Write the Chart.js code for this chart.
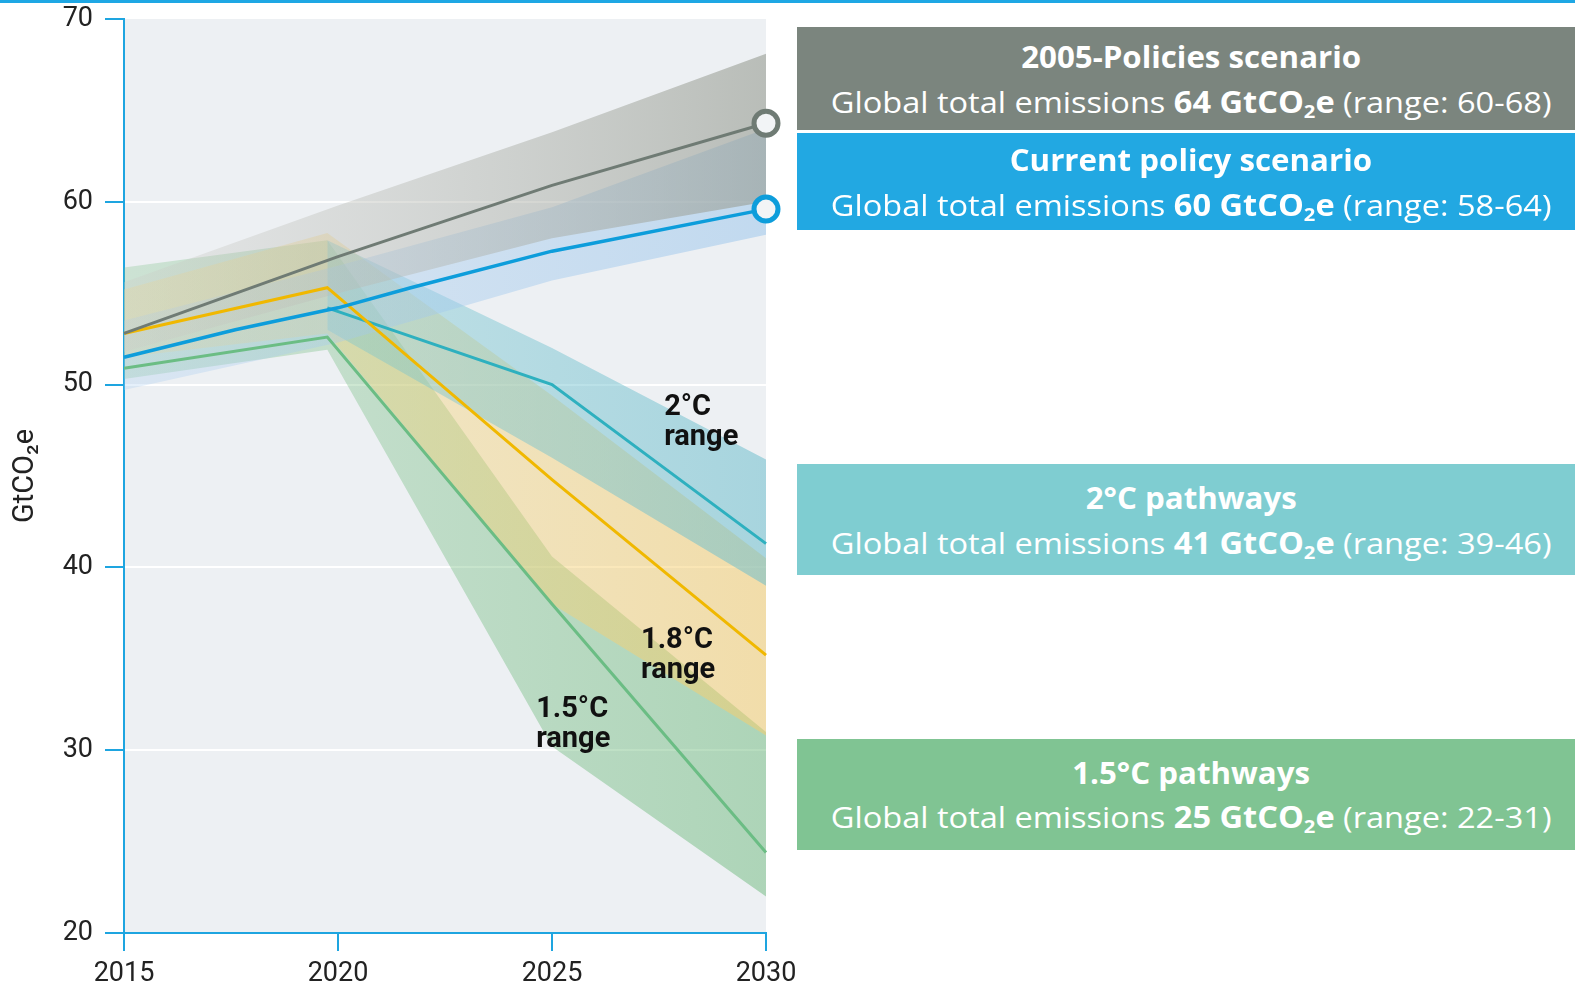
<!DOCTYPE html>
<html>
<head>
<meta charset="utf-8">
<script src="https://cdn.jsdelivr.net/npm/chart.js@4/dist/chart.umd.min.js"></script>
<style>
  html, body { margin: 0; padding: 0; background: #fff; overflow: hidden; }
  body { width: 1575px; height: 993px; position: relative; }
  #topline { position: absolute; left: 0; top: 0; width: 1575px; height: 3px; background: #1ea7e4; }
  #wrap { position: absolute; left: 0; top: 0; width: 800px; height: 993px; }
  .box { position: absolute; left: 797px; width: 788px; color: #fff; font-family: "Open Sans", sans-serif; }
  .line { position: absolute; left: 0; width: 100%; height: 40px; line-height: 40px; text-align: center; white-space: nowrap; font-size: 30px; }
  .line span { display: inline-block; transform-origin: center; }
  .t { font-weight: 700; }
  .s b { font-weight: 700; }
  sub { font-size: 0.62em; line-height: 0; vertical-align: -0.25em; }
</style>
</head>
<body>
<div id="topline"></div>
<div id="wrap"><canvas id="emissionsChart" width="800" height="993"></canvas></div>

<div class="box" style="top:27px;height:103px;background:#7b857e">
  <div class="line t" style="top:10px"><span>2005-Policies scenario</span></div>
  <div class="line s" style="top:55px"><span>Global total emissions <b>64 GtCO<sub>2</sub>e</b> (range: 60-68)</span></div>
</div>
<div class="box" style="top:133px;height:97px;background:#22a8e2">
  <div class="line t" style="top:7px"><span>Current policy scenario</span></div>
  <div class="line s" style="top:52px"><span>Global total emissions <b>60 GtCO<sub>2</sub>e</b> (range: 58-64)</span></div>
</div>
<div class="box" style="top:464px;height:111px;background:#7fcdd1">
  <div class="line t" style="top:14px"><span>2°C pathways</span></div>
  <div class="line s" style="top:59px"><span>Global total emissions <b>41 GtCO<sub>2</sub>e</b> (range: 39-46)</span></div>
</div>
<div class="box" style="top:739px;height:111px;background:#80c493">
  <div class="line t" style="top:14px"><span>1.5°C pathways</span></div>
  <div class="line s" style="top:58px"><span>Global total emissions <b>25 GtCO<sub>2</sub>e</b> (range: 22-31)</span></div>
</div>

<script>
// years on the x axis
var bandYears = [2015, 2020, 2025, 2030];
var pathYears = [2015, 2019.75, 2025, 2030];
var twoYears = [2019.75, 2025, 2030];
var currentYears = [2015, 2017.6, 2020, 2021.7, 2025, 2025.9, 2030];
var xTicks = [2015, 2020, 2025, 2030];
var yTicks = [20, 30, 40, 50, 60, 70];

// median lines (GtCO2e)
var policy2005Line = [52.8, 57.0, 60.9, 64.3];
var currentLine = [51.5, 53.0, 54.2, 55.3, 57.3, 57.7, 59.6];
var oneEightLine = [52.8, 55.3, 44.8, 35.2];
var twoLine = [54.2, 50.0, 41.3];
var oneFiveLine = [50.9, 52.6, 38.0, 24.4];

// ranges
var policy2005Upper = [55.6, 59.8, 63.8, 68.1];
var policy2005Lower = [51.8, 55.0, 58.0, 60.0];
var currentUpper = [53.5, 56.5, 59.7, 64.0];
var currentLower = [49.7, 52.3, 55.7, 58.2];
var twoUpper = [57.9, 52.0, 45.9];
var twoLower = [53.0, 46.0, 39.0];
var oneEightUpper = [55.2, 58.3, 49.4, 40.5];
var oneEightLower = [51.5, 52.8, 38.0, 30.8];
var oneFiveUpper = [56.4, 57.9, 40.6, 31.0];
var oneFiveLower = [50.3, 51.9, 30.2, 22.0];

// in-plot labels
var rangeLabels = [
    { text: ['2°C', 'range'], x: 2027.62, y: 48.73 },
    { text: ['1.8°C', 'range'], x: 2027.08, y: 35.98 },
    { text: ['1.5°C', 'range'], x: 2024.63, y: 32.23 }
];

var axisBlue = '#1ea5e0';

function pts(xs, ys) {
    return xs.map(function(x, i) { return { x: x, y: ys[i] }; });
}

function grad(c0, c1) {
    return function(context) {
        var chart = context.chart, area = chart.chartArea;
        if (!area) return c1;
        var g = chart.ctx.createLinearGradient(area.left, 0, area.right, 0);
        g.addColorStop(0, c0);
        g.addColorStop(1, c1);
        return g;
    };
}

function line(label, xs, ys, color, width, marker) {
    return {
        label: label,
        data: pts(xs, ys),
        borderColor: color,
        borderWidth: width,
        fill: false,
        tension: 0,
        clip: false,
        pointRadius: function(ctx) { return marker && ctx.dataIndex === ys.length - 1 ? 12 : 0; },
        pointBorderWidth: 5,
        pointBorderColor: color,
        pointBackgroundColor: '#f2f4f6',
        pointHoverRadius: 0
    };
}

function band(label, xs, upper, lower, c0, c1) {
    return [{
        label: label + ' upper',
        data: pts(xs, upper),
        borderWidth: 0,
        pointRadius: 0,
        backgroundColor: grad(c0, c1),
        fill: '+1',
        tension: 0
    }, {
        label: label + ' lower',
        data: pts(xs, lower),
        borderWidth: 0,
        pointRadius: 0,
        fill: false,
        tension: 0
    }];
}

var datasets = [
    line('2005-Policies', bandYears, policy2005Line, '#6f7b74', 3, true),
    line('Current policy', currentYears, currentLine, '#0d9ddb', 3.5, true),
    line('1.8°C', pathYears, oneEightLine, '#f0b800', 3, false),
    line('2°C', twoYears, twoLine, '#2eb0bf', 3, false),
    line('1.5°C', pathYears, oneFiveLine, '#6bbd84', 3, false)
].concat(
    band('2005-Policies', bandYears, policy2005Upper, policy2005Lower, 'rgba(205,205,200,0.3)', 'rgba(150,155,145,0.6)'),
    band('Current policy', bandYears, currentUpper, currentLower, 'rgba(170,205,240,0.3)', 'rgba(150,195,235,0.5)'),
    band('2°C', twoYears, twoUpper, twoLower, 'rgba(120,200,210,0.3)', 'rgba(110,190,205,0.55)'),
    band('1.8°C', pathYears, oneEightUpper, oneEightLower, 'rgba(245,215,130,0.3)', 'rgba(245,205,110,0.55)'),
    band('1.5°C', pathYears, oneFiveUpper, oneFiveLower, 'rgba(120,190,130,0.28)', 'rgba(110,185,125,0.5)')
);

// plot background and range labels
var plotDecor = {
    id: 'plotDecor',
    beforeDraw: function(chart) {
        var a = chart.chartArea, ctx = chart.ctx;
        ctx.save();
        ctx.fillStyle = '#edf0f3';
        ctx.fillRect(a.left, a.top, a.right - a.left, a.bottom - a.top);
        ctx.restore();
    },
    afterDatasetsDraw: function(chart) {
        var ctx = chart.ctx, xs = chart.scales.x, ys = chart.scales.y;
        ctx.save();
        ctx.fillStyle = '#111';
        ctx.font = 'bold 29px Roboto';
        ctx.textAlign = 'left';
        ctx.textBaseline = 'middle';
        rangeLabels.forEach(function(l) {
            var px = xs.getPixelForValue(l.x), py = ys.getPixelForValue(l.y);
            l.text.forEach(function(t, i) { ctx.fillText(t, px, py + i * 30); });
        });
        ctx.restore();
    }
};

var ctx = document.getElementById('emissionsChart').getContext('2d');
new Chart(ctx, {
    type: 'line',
    data: { datasets: datasets },
    plugins: [plotDecor],
    options: {
        responsive: false,
        animation: false,
        devicePixelRatio: 1,
        // plot area: left 124, top 19, right 766, bottom 933
        layout: { padding: { top: 19, right: 34, left: 0, bottom: 0 } },
        plugins: { legend: { display: false }, tooltip: { enabled: false } },
        scales: {
            x: {
                type: 'linear',
                min: 2015,
                max: 2030,
                afterBuildTicks: function(scale) { scale.ticks = xTicks.map(function(v) { return { value: v }; }); },
                afterFit: function(scale) {
                    scale.height = 60;
                    scale.paddingLeft = 0;
                    scale.paddingRight = 0;
                },
                ticks: {
                    color: '#222',
                    font: { family: 'Roboto', size: 27 },
                    padding: 7,
                    maxRotation: 0,
                    callback: function(v) { return String(v); }
                },
                grid: { drawOnChartArea: false, tickColor: axisBlue, tickLength: 18, lineWidth: 2 },
                border: { color: axisBlue, width: 2 }
            },
            y: {
                min: 20,
                max: 70,
                afterBuildTicks: function(scale) { scale.ticks = yTicks.map(function(v) { return { value: v }; }); },
                afterFit: function(scale) {
                    scale.width = 124;
                    scale.paddingTop = 0;
                    scale.paddingBottom = 0;
                },
                ticks: {
                    color: '#222',
                    font: { family: 'Roboto', size: 27 },
                    padding: 12,
                    callback: function(v) { return String(v); }
                },
                grid: {
                    color: function(c) { return (c.tick && (c.tick.value === 20 || c.tick.value === 70)) ? 'rgba(0,0,0,0)' : '#ffffff'; },
                    lineWidth: 2,
                    tickColor: axisBlue,
                    tickLength: 19
                },
                border: { color: axisBlue, width: 2 },
                title: {
                    display: true,
                    text: 'GtCO₂e',
                    color: '#222',
                    font: { family: 'Roboto', size: 29 },
                    padding: { top: 8, bottom: 0 }
                }
            }
        }
    }
});

// squeeze box text to the width of the original face
var k1 = 721 / document.querySelector('.box .s span').getBoundingClientRect().width;
var k2 = 340 / document.querySelector('.box .t span').getBoundingClientRect().width;
document.querySelectorAll('.box .s span').forEach(function(s) { s.style.transform = 'scaleX(' + k1.toFixed(3) + ')'; });
document.querySelectorAll('.box .t span').forEach(function(s) { s.style.transform = 'scaleX(' + k2.toFixed(3) + ')'; });
</script>
</body>
</html>
